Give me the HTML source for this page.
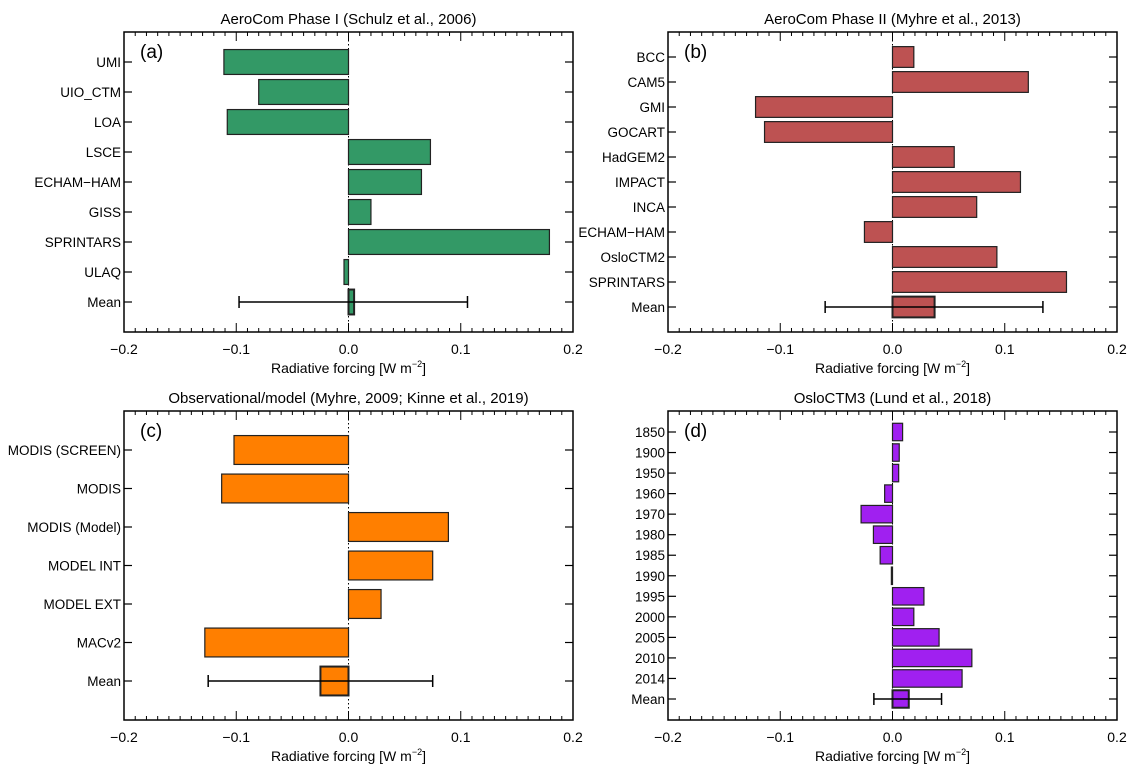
<!DOCTYPE html>
<html><head><meta charset="utf-8"><style>
html,body{margin:0;padding:0;background:#fff;}
svg{display:block;font-family:"Liberation Sans",Arial,sans-serif;}
</style></head><body>
<svg id="fig" width="1143" height="772" viewBox="0 0 1143 772" xmlns="http://www.w3.org/2000/svg"></svg>
<script>
const xTicks = [-0.2, -0.1, 0.0, 0.1, 0.2];
const xTickLabels = ["\u22120.2", "\u22120.1", "0.0", "0.1", "0.2"];

const catsA = ["UMI","UIO_CTM","LOA","LSCE","ECHAM\u2212HAM","GISS","SPRINTARS","ULAQ","Mean"];
const valsA = [-0.111,-0.080,-0.108,0.073,0.065,0.020,0.179,-0.004,0.005];
const errA = [-0.0975, 0.106];

const catsB = ["BCC","CAM5","GMI","GOCART","HadGEM2","IMPACT","INCA","ECHAM\u2212HAM","OsloCTM2","SPRINTARS","Mean"];
const valsB = [0.019,0.121,-0.122,-0.114,0.055,0.114,0.075,-0.025,0.093,0.155,0.0375];
const errB = [-0.060, 0.134];

const catsC = ["MODIS (SCREEN)","MODIS","MODIS (Model)","MODEL INT","MODEL EXT","MACv2","Mean"];
const valsC = [-0.102,-0.113,0.089,0.075,0.029,-0.128,-0.025];
const errC = [-0.125, 0.075];

const catsD = ["1850","1900","1950","1960","1970","1980","1985","1990","1995","2000","2005","2010","2014","Mean"];
const valsD = [0.009,0.006,0.0055,-0.007,-0.028,-0.017,-0.011,-0.001,0.028,0.019,0.0415,0.0707,0.062,0.0145];
const errD = [-0.0166, 0.0437];

const NS = "http://www.w3.org/2000/svg";
const svg = document.getElementById("fig");
function mk(tag, attrs, parent, text){
  const e = document.createElementNS(NS, tag);
  for (const k in attrs) e.setAttribute(k, attrs[k]);
  if (text !== undefined) e.textContent = text;
  (parent||svg).appendChild(e);
  return e;
}

function panel(cfg){
  const g = mk("g", {});
  
  
  const L = cfg.x0, R = cfg.x1, T = cfg.y0, B = cfg.y1;
  const xs = v => L + (v + 0.2) / 0.4 * (R - L);
  const n = cfg.cats.length;
  const y = i => cfg.yFirst + i * (cfg.yLast - cfg.yFirst) / (n - 1);
  const step = (cfg.yLast - cfg.yFirst) / (n - 1);
  const bh = step * cfg.frac;

  const title = mk("text", {x:(L+R)/2, y:T-8, "text-anchor":"middle", "font-size":"15", fill:"#000"}, g, cfg.title);
  
  

  const zl = mk("line", {x1:xs(0), x2:xs(0), y1:T, y2:B, stroke:"#000", "stroke-width":"1", "stroke-dasharray":"1.5,2.5"}, g);
  
  

  for (let i = 0; i < n; i++){
    const v = cfg.vals[i];
    const isMean = i === n - 1;
    const bx = Math.min(xs(0), xs(v)), bw = Math.max(Math.abs(xs(v) - xs(0)), 1);
    const r = mk("rect", {x:bx, y:y(i)-bh/2, width:bw, height:bh, fill:cfg.color, stroke:"#222", "stroke-width": isMean ? "2" : "1.2"}, g);
    
    
    const t = mk("text", {x:L-3, y:y(i)+5, "text-anchor":"end", "font-size":"13.5", fill:"#000"}, g, cfg.cats[i]);
    
    
    mk("line", {x1:L, x2:L+8, y1:y(i), y2:y(i), stroke:"#000", "stroke-width":"1.2"}, g);
    mk("line", {x1:R, x2:R-8, y1:y(i), y2:y(i), stroke:"#000", "stroke-width":"1.2"}, g);
  }
  const ym = y(n-1);
  const eb = mk("g", {}, g);
  
  
  mk("line", {x1:xs(cfg.err[0]), x2:xs(cfg.err[1]), y1:ym, y2:ym, stroke:"#000", "stroke-width":"1.5"}, eb);
  mk("line", {x1:xs(cfg.err[0]), x2:xs(cfg.err[0]), y1:ym-6, y2:ym+6, stroke:"#000", "stroke-width":"1.5"}, eb);
  mk("line", {x1:xs(cfg.err[1]), x2:xs(cfg.err[1]), y1:ym-6, y2:ym+6, stroke:"#000", "stroke-width":"1.5"}, eb);

  const fr = mk("rect", {x:L, y:T, width:R-L, height:B-T, fill:"none", stroke:"#000", "stroke-width":"1.5"}, g);
  
  

  for (let k = -20; k <= 20; k++){
    const xv = xs(k/100);
    const len = (k % 10 === 0) ? 9 : 4;
    mk("line", {x1:xv, x2:xv, y1:B, y2:B-len, stroke:"#000", "stroke-width":"1"}, g);
    mk("line", {x1:xv, x2:xv, y1:T, y2:T+len, stroke:"#000", "stroke-width":"1"}, g);
  }
  xTicks.forEach((tv, j) => {
    const t = mk("text", {x:xs(tv), y:B+22, "text-anchor":"middle", "font-size":"14", fill:"#000"}, g, xTickLabels[j]);
    
    
  });
  const at = mk("text", {x:(L+R)/2, y:B+41, "text-anchor":"middle", "font-size":"14", fill:"#000"}, g);
  
  
  mk("tspan", {}, at, "Radiative forcing [W m");
  mk("tspan", {dy:"-6", "font-size":"9"}, at, "\u22122");
  mk("tspan", {dy:"6"}, at, "]");

  const pl = mk("text", {x:L+16, y:T+26, "font-size":"19", fill:"#000"}, g, cfg.label);
  
  
}

panel({name:"panel-a", title:"AeroCom Phase I (Schulz et al., 2006)", label:"(a)", x0:124, x1:573, y0:32, y1:332, yFirst:62, yLast:302, frac:0.83, cats:catsA, vals:valsA, err:errA, color:"#339966"});
panel({name:"panel-b", title:"AeroCom Phase II (Myhre et al., 2013)", label:"(b)", x0:668, x1:1117, y0:32, y1:332, yFirst:57, yLast:307, frac:0.83, cats:catsB, vals:valsB, err:errB, color:"#bd5252"});
panel({name:"panel-c", title:"Observational/model (Myhre, 2009; Kinne et al., 2019)", label:"(c)", x0:124, x1:573, y0:411, y1:720, yFirst:450, yLast:681, frac:0.75, cats:catsC, vals:valsC, err:errC, color:"#ff7f00"});
panel({name:"panel-d", title:"OsloCTM3 (Lund et al., 2018)", label:"(d)", x0:668, x1:1117, y0:411, y1:720, yFirst:432, yLast:699, frac:0.85, cats:catsD, vals:valsD, err:errD, color:"#a020f0"});
</script>
</body></html>
